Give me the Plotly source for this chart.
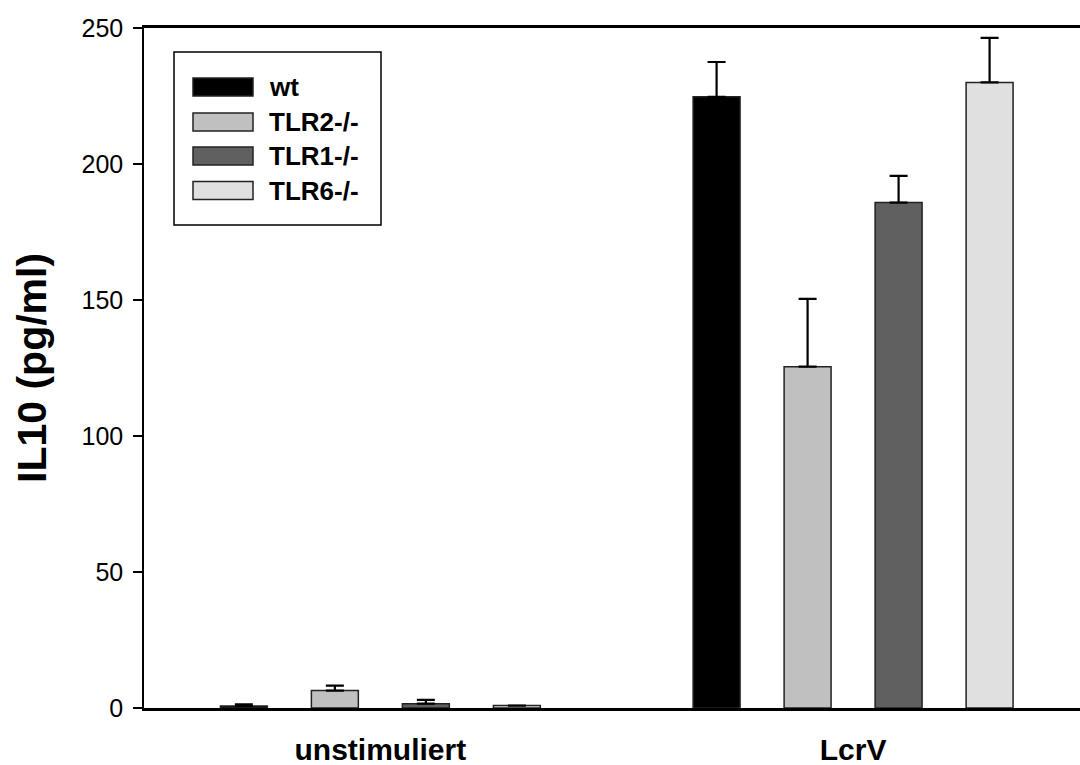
import plotly.graph_objects as go

categories = ["unstimuliert", "LcrV"]
series_names = ["wt", "TLR2-/-", "TLR1-/-", "TLR6-/-"]
values = {
    "wt": [0.75, 224.7],
    "TLR2-/-": [6.4, 125.5],
    "TLR1-/-": [1.6, 185.8],
    "TLR6-/-": [0.9, 230.0],
}
errors = {
    "wt": [0.55, 12.8],
    "TLR2-/-": [1.8, 24.9],
    "TLR1-/-": [1.4, 9.8],
    "TLR6-/-": [0.0, 16.4],
}
colors = {
    "wt": "#000000",
    "TLR2-/-": "#c0c0c0",
    "TLR1-/-": "#606060",
    "TLR6-/-": "#e0e0e0",
}
y_ticks = [0, 50, 100, 150, 200, 250]

FONT = "Liberation Sans, Arial, sans-serif"

fig = go.Figure()
for name in series_names:
    fig.add_trace(go.Bar(
        name=name,
        x=categories,
        y=values[name],
        marker=dict(color=colors[name], line=dict(color="#222222", width=1.5)),
        error_y=dict(type="data", array=errors[name], arrayminus=[0, 0],
                     symmetric=False, color="#000000", thickness=2.2, width=9),
        showlegend=False,
    ))

W, H = 1080, 765
L, R, T, B = 144, 0, 28, 57
pw, ph = W - L - R, H - T - B

def px(x):
    return (x - L) / pw

def py(y):
    return (H - B - y) / ph

shapes = []
annotations = []
# legend box
shapes.append(dict(type="rect", xref="paper", yref="paper",
                   x0=px(174), x1=px(381), y0=py(225), y1=py(52),
                   line=dict(color="#000000", width=1.5), fillcolor="white", layer="above"))
row_centers = [87, 122, 156, 190.5]
for name, yc in zip(series_names, row_centers):
    shapes.append(dict(type="rect", xref="paper", yref="paper",
                       x0=px(193), x1=px(253), y0=py(yc + 9), y1=py(yc - 9),
                       line=dict(color="#222222", width=1.5), fillcolor=colors[name], layer="above"))
    annotations.append(dict(xref="paper", yref="paper", x=px(267), y=py(yc),
                            xanchor="left", yanchor="middle", showarrow=False,
                            text="<b>%s</b>" % name,
                            font=dict(family=FONT, size=26, color="#000000")))

annotations.append(dict(xref="paper", yref="paper", x=0, y=0.5, xshift=-112,
                        xanchor="center", yanchor="middle", showarrow=False,
                        textangle=-90, text="<b>IL10 (pg/ml)</b>",
                        font=dict(family=FONT, size=41, color="#000000")))

fig.update_layout(
    width=W, height=H,
    margin=dict(l=L, r=R, t=T, b=B, pad=0, autoexpand=False),
    paper_bgcolor="white", plot_bgcolor="white",
    barmode="group", bargap=0.23, bargroupgap=0.484,
    font=dict(family=FONT, color="#000000"),
    shapes=shapes, annotations=annotations,
    xaxis=dict(
        type="category", range=[-0.5, 1.48], automargin=False,
        showline=True, linecolor="#000000", linewidth=2.5, mirror=True,
        ticks="", showgrid=False, zeroline=False, ticklabelstandoff=13,
        tickfont=dict(family=FONT, size=30, color="#000000", weight="bold"),
    ),
    yaxis=dict(
        range=[0, 250], tickvals=y_ticks, ticktext=[str(v) for v in y_ticks],
        automargin=False,
        showline=True, linecolor="#000000", linewidth=1.5,
        ticks="outside", ticklen=9, tickwidth=1.5, tickcolor="#000000",
        showgrid=False, zeroline=False, ticklabelstandoff=5,
        tickfont=dict(family=FONT, size=25, color="#000000"),
    ),
)

fig.write_html("out.html")
